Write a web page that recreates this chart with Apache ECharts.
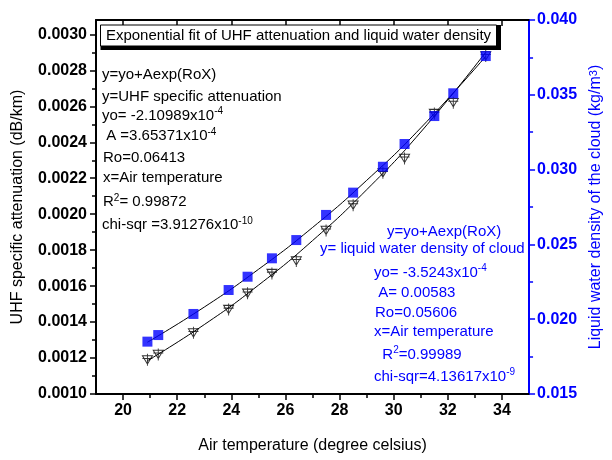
<!DOCTYPE html>
<html><head><meta charset="utf-8">
<script src="https://cdn.jsdelivr.net/npm/echarts@6/dist/echarts.min.js"></script>
<style>html,body{margin:0;padding:0;background:#fff}#c{width:612px;height:460px}</style>
</head><body><div id="c"></div><script>
// ---- data ----
const airTemp = [20.9, 21.3, 22.6, 23.9, 24.6, 25.5, 26.4, 27.5, 28.5, 29.6, 30.4, 31.5, 32.2, 33.4];
const uhfAttenuation = [0.00119, 0.00122, 0.00134, 0.00147, 0.00156, 0.00167, 0.00174, 0.00191, 0.00205, 0.00223, 0.00231, 0.00256, 0.00262, 0.00288];
const liquidWater = [0.01850, 0.01894, 0.02035, 0.02195, 0.02284, 0.02407, 0.02529, 0.02697, 0.02846, 0.03019, 0.03171, 0.03358, 0.03510, 0.03759];
// fitted curves
const fitTemp = [20.9, 23, 25, 27, 29, 31, 33.4];
const fitAttenuation = [0.001185, 0.001386, 0.001605, 0.001853, 0.002136, 0.002457, 0.002901];
const fitLiquidWater = [0.01846, 0.02081, 0.02333, 0.02613, 0.02928, 0.03279, 0.03757];
// axis ticks
const xMajor = [20, 22, 24, 26, 28, 30, 32, 34];
const xMinor = [21, 23, 25, 27, 29, 31, 33];
const leftMajor = [0.0010, 0.0012, 0.0014, 0.0016, 0.0018, 0.0020, 0.0022, 0.0024, 0.0026, 0.0028, 0.0030];
const leftMinor = [0.0011, 0.0013, 0.0015, 0.0017, 0.0019, 0.0021, 0.0023, 0.0025, 0.0027, 0.0029];
// texts
const titleText = 'Exponential fit of UHF attenuation and liquid water density';
const blackNotes = ['y=yo+Aexp(RoX)', 'y=UHF specific attenuation', 'yo= -2.10989x10{sup|-4}', ' A =3.65371x10{sup|-4}', 'Ro=0.06413', 'x=Air temperature', 'R{sup|2}= 0.99872', 'chi-sqr =3.91276x10{sup|-10}'];
const blueNotes = ['y=yo+Aexp(RoX)', 'y= liquid water density of cloud', 'yo= -3.5243x10{sup|-4}', ' A= 0.00583', 'Ro=0.05606', 'x=Air temperature', '  R{sup|2}=0.99989', 'chi-sqr=4.13617x10{sup|-9}'];

const FF = '"Liberation Sans", Arial, sans-serif';
const BLUE = '#0000ff';
const zip = (a, b) => a.map((v, i) => [v, b[i]]);

const blackPos = [[102, 75], [102, 96.5], [102, 115.5], [102, 136], [103, 158], [103, 178], [103, 202], [102, 225]];
const bluePos = [[387, 231.5], [320, 248.5], [374, 272.5], [374, 293], [375, 312.5], [374, 331.5], [374, 354.5], [374, 376.5]];

function note(text, p, color) {
  return {
    type: 'text', x: p[0], y: p[1], z: 10,
    style: {
      text: text, fill: color, fontFamily: FF, fontSize: 15, lineHeight: 18,
      verticalAlign: 'middle', align: 'left',
      rich: { sup: { fontSize: 10, lineHeight: 10, verticalAlign: 'top', fill: color, fontFamily: FF } }
    }
  };
}

const graphics = [
  { type: 'rect', z: 10, shape: { x: 100.5, y: 25, width: 400.5, height: 25 }, style: { fill: '#000' } },
  { type: 'rect', z: 11, shape: { x: 100.5, y: 25, width: 396, height: 21 }, style: { fill: '#fff', stroke: '#000', lineWidth: 1 } },
  { type: 'text', z: 12, x: 298.5, y: 35.5, style: { text: titleText, fill: '#000', fontFamily: FF, fontSize: 15, align: 'center', verticalAlign: 'middle' } }
];
blackNotes.forEach((t, i) => graphics.push(note(t, blackPos[i], '#000')));
blueNotes.forEach((t, i) => graphics.push(note(t, bluePos[i], BLUE)));

const tickLabel = { fontFamily: FF, fontSize: 16, fontWeight: 'bold', color: '#000' };

const option = {
  animation: false,
  backgroundColor: '#fff',
  grid: { left: 96, right: 77, top: 20, bottom: 66 },
  xAxis: [
    {
      type: 'value', position: 'bottom', min: 19, max: 35,
      axisLine: { show: true, lineStyle: { color: '#000', width: 2 } },
      axisTick: { show: true, customValues: xMajor, length: 6, lineStyle: { color: '#000', width: 1.5 } },
      axisLabel: Object.assign({ customValues: xMajor, margin: 9 }, tickLabel),
      splitLine: { show: false },
      name: 'Air temperature (degree celsius)', nameLocation: 'middle', nameGap: 44,
      nameTextStyle: { fontFamily: FF, fontSize: 16, color: '#000' }
    },
    {
      type: 'value', position: 'bottom', min: 19, max: 35,
      axisLine: { show: false },
      axisTick: { show: true, customValues: xMinor, length: 4, lineStyle: { color: '#000', width: 1.5 } },
      axisLabel: { show: false }, splitLine: { show: false }
    },
    {
      type: 'value', position: 'top', min: 19, max: 35,
      axisLine: { show: true, lineStyle: { color: '#000', width: 2 } },
      axisTick: { show: true, inside: true, customValues: xMajor, length: 6, lineStyle: { color: '#000', width: 1.5 } },
      axisLabel: { show: false }, splitLine: { show: false }
    }
  ],
  yAxis: [
    {
      type: 'value', position: 'left', min: 0.001, max: 0.00308,
      axisLine: { show: true, lineStyle: { color: '#000', width: 2 } },
      axisTick: { show: true, customValues: leftMajor, length: 6, lineStyle: { color: '#000', width: 1.5 } },
      axisLabel: Object.assign({ customValues: leftMajor, margin: 9, formatter: v => v.toFixed(4) }, tickLabel),
      splitLine: { show: false },
      name: 'UHF specific attenuation (dB/km)', nameLocation: 'middle', nameRotate: 90, nameGap: 70,
      nameTextStyle: { fontFamily: FF, fontSize: 16, color: '#000' }
    },
    {
      type: 'value', position: 'right', min: 0.015, max: 0.040, interval: 0.005,
      axisLine: { show: true, lineStyle: { color: BLUE, width: 2 } },
      axisTick: { show: true, length: 6, lineStyle: { color: BLUE, width: 1.5 } },
      minorTick: { show: true, splitNumber: 2, length: 4, lineStyle: { color: BLUE, width: 1.5 } },
      axisLabel: { margin: 8, fontFamily: FF, fontSize: 16, fontWeight: 'bold', color: BLUE, formatter: v => v.toFixed(3) },
      splitLine: { show: false },
      name: 'Liquid water density of the cloud (kg/m{sup|3})', nameLocation: 'middle', nameRotate: 90, nameGap: 58,
      nameTextStyle: { fontFamily: FF, fontSize: 16, color: BLUE, rich: { sup: { fontSize: 11, verticalAlign: 'top', lineHeight: 11, color: BLUE, fontFamily: FF } } }
    },
    {
      type: 'value', position: 'left', min: 0.001, max: 0.00308,
      axisLine: { show: false },
      axisTick: { show: true, customValues: leftMinor, length: 4, lineStyle: { color: '#000', width: 1.5 } },
      axisLabel: { show: false }, splitLine: { show: false }
    }
  ],
  series: [
    {
      type: 'line', name: 'fit attenuation', xAxisIndex: 0, yAxisIndex: 0,
      data: zip(fitTemp, fitAttenuation), smooth: true, symbol: 'none',
      lineStyle: { color: '#000', width: 1 }, z: 2
    },
    {
      type: 'line', name: 'fit liquid water', xAxisIndex: 0, yAxisIndex: 1,
      data: zip(fitTemp, fitLiquidWater), smooth: true, symbol: 'none',
      lineStyle: { color: '#000', width: 1 }, z: 2
    },
    {
      type: 'scatter', name: 'UHF attenuation', xAxisIndex: 0, yAxisIndex: 0,
      data: zip(airTemp, uhfAttenuation),
      symbol: 'path://M0,2 L10,2 L5,11 Z M5,0 L5,13 M0,5 L10,5',
      symbolSize: [10, 12],
      itemStyle: { color: 'rgba(255,255,255,0)', borderColor: '#000', borderWidth: 1 }, z: 3
    },
    {
      type: 'scatter', name: 'Liquid water density', xAxisIndex: 0, yAxisIndex: 1,
      data: zip(airTemp, liquidWater),
      symbol: 'rect', symbolSize: 10,
      itemStyle: { color: BLUE }, z: 4
    }
  ],
  graphic: graphics
};
const chart = echarts.init(document.getElementById('c'), null, { renderer: 'canvas' });
chart.setOption(option);
</script></body></html>
